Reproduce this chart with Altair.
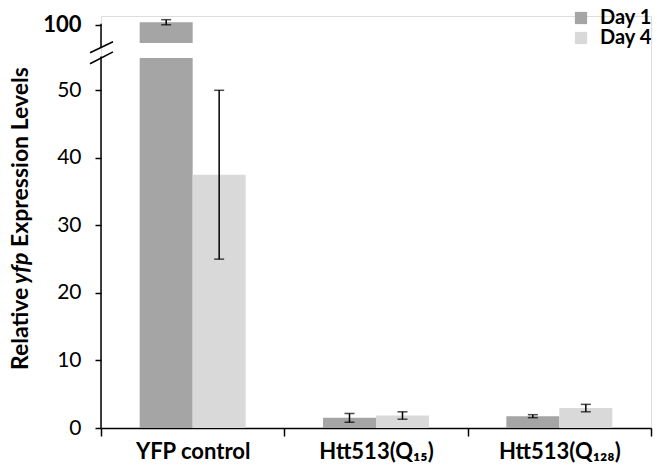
import altair as alt
import pandas as pd

# ---- data ----
categories = ["YFP control", "Htt513(Q₁₅)", "Htt513(Q₁₂₈)"]
days = ["Day 1", "Day 4"]
day1_mean = [100.7, 1.5, 1.75]
day1_err = [0.7, 0.65, 0.22]
day4_mean = [37.5, 1.85, 2.95]
day4_err = [12.5, 0.55, 0.55]
colors = ["#a5a5a5", "#d9d9d9"]
y_ticks = [0, 10, 20, 30, 40, 50, 100]

# broken axis: lower part 0..LOWER_CAP drawn 1:1, upper part compressed above the break
LOWER_CAP = 54.8
UPPER_BASE_VAL = 95.0
UPPER_BASE_DISP = 57.0
UPPER_K = 0.54


def disp(v):
    if v <= LOWER_CAP:
        return v
    return UPPER_BASE_DISP + (v - UPPER_BASE_VAL) * UPPER_K


bar_rows, err_rows = [], []
for day, means, errs in [("Day 1", day1_mean, day1_err), ("Day 4", day4_mean, day4_err)]:
    for c, m, e in zip(categories, means, errs):
        if m > LOWER_CAP:
            bar_rows.append({"cat": c, "day": day, "y0": 0, "y1": LOWER_CAP})
            bar_rows.append({"cat": c, "day": day, "y0": UPPER_BASE_DISP, "y1": disp(m)})
        else:
            bar_rows.append({"cat": c, "day": day, "y0": 0, "y1": m})
        err_rows.append({"cat": c, "day": day, "lo": disp(m - e), "hi": disp(m + e)})

bars_df = pd.DataFrame(bar_rows)
err_df = pd.DataFrame(err_rows)
tick_disp = [disp(t) for t in y_ticks]

# axis segments and break slashes (display units)
axis_df = pd.DataFrame({"a": [0, 56.4], "b": [55.0, 59.85]})
slash_df = pd.DataFrame({"a": [55.56, 53.93], "b": [57.19, 55.70]})

FONT = "Lato"
W, H = 550, 412

xscale = alt.Scale(domain=categories, paddingInner=0, paddingOuter=0)
xoff_scale = alt.Scale(domain=days, paddingInner=0, paddingOuter=0.73)
yscale = alt.Scale(domain=[0, 61], nice=False, zero=False)

label_expr = "datum.value > 56 ? '100' : datum.label"

bars = alt.Chart(bars_df).mark_bar().encode(
    x=alt.X("cat:N", scale=xscale, sort=categories,
            axis=alt.Axis(title=None, labelAngle=0, domain=True, domainColor="black",
                          domainWidth=1.5, tickBand="extent", tickSize=8, tickWidth=1.5,
                          tickColor="black", labelFont=FONT, labelFontSize=22,
                          labelFontWeight="bold", labelColor="black", labelPadding=5)),
    xOffset=alt.XOffset("day:N", scale=xoff_scale, sort=days),
    y=alt.Y("y1:Q", scale=yscale,
            axis=alt.Axis(title=None, values=tick_disp, domain=False, grid=False,
                          tickSize=6, tickWidth=1.5, tickColor="black",
                          labelFont=FONT, labelColor="black", labelPadding=14,
                          labelExpr=label_expr,
                          labelFontSize={"condition": {"test": "datum.value > 56", "value": 22}, "value": 21},
                          labelFontWeight={"condition": {"test": "datum.value > 56", "value": "bold"}, "value": "normal"})),
    y2="y0:Q",
    color=alt.Color("day:N", scale=alt.Scale(domain=days, range=colors),
                    legend=alt.Legend(title=None, orient="none", legendX=470, legendY=-8,
                                      symbolType="square", symbolSize=150, symbolStrokeWidth=0,
                                      labelFont=FONT, labelFontSize=20, labelFontWeight="bold",
                                      labelColor="black", labelOffset=9, rowPadding=-6, padding=0)),
)

err_rule = alt.Chart(err_df).mark_rule(color="black", strokeWidth=1.5).encode(
    x=alt.X("cat:N", sort=categories), xOffset=alt.XOffset("day:N", sort=days),
    y="lo:Q", y2="hi:Q")
cap_hi = alt.Chart(err_df).mark_tick(color="black", thickness=1.5, size=10).encode(
    x=alt.X("cat:N", sort=categories), xOffset=alt.XOffset("day:N", sort=days), y="hi:Q")
cap_lo = alt.Chart(err_df).mark_tick(color="black", thickness=1.5, size=10).encode(
    x=alt.X("cat:N", sort=categories), xOffset=alt.XOffset("day:N", sort=days), y="lo:Q")

yaxis_line = alt.Chart(axis_df).mark_rule(color="black", strokeWidth=1.5).encode(
    x=alt.value(0), y="a:Q", y2="b:Q")
slashes = alt.Chart(slash_df).mark_rule(color="black", strokeWidth=1.5).encode(
    x=alt.value(-11), x2=alt.value(12), y="a:Q", y2="b:Q")

# y-axis title with an italic gene name: three rotated text pieces
title_parts = ["Relative", "yfp", "Expression Levels"]
title_styles = ["normal", "italic", "normal"]
title_py = [354, 268, 231]
title_layers = []
for t, st, py in zip(title_parts, title_styles, title_py):
    title_layers.append(
        alt.Chart(pd.DataFrame({"t": [t]})).mark_text(
            angle=270, align="left", baseline="alphabetic", font=FONT, fontSize=23,
            fontWeight="bold", fontStyle=st, color="black").encode(
            text="t:N", x=alt.value(-73), y=alt.value(py)))

chart = alt.layer(bars, err_rule, cap_hi, cap_lo, yaxis_line, slashes, *title_layers).properties(
    width=W, height=H,
    autosize=alt.AutoSizeParams(type="none"),
    padding={"left": 93, "top": 8, "right": 2, "bottom": 40},
).configure_view(stroke=None).configure(background="white")

chart.save("out.html", embed_options={"renderer": "svg", "actions": False})
